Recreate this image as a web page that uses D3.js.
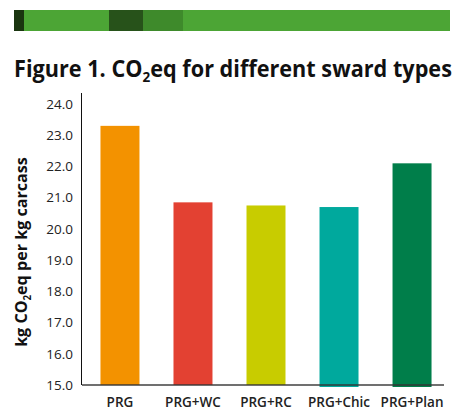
<!DOCTYPE html>
<html>
<head>
<meta charset="utf-8">
<script src="https://d3js.org/d3.v7.min.js"></script>
<style>
  body { margin: 0; background: #fff; }
  svg { display: block; font-family: "Open Sans", "Noto Sans", sans-serif; }
</style>
</head>
<body>
<div id="chart"></div>
<script>
// Sward types and kg CO2eq per kg carcass
const swards = ["PRG", "PRG+WC", "PRG+RC", "PRG+Chic", "PRG+Plan"];
const co2 = [23.3, 20.85, 20.75, 20.7, 22.1];
const barColors = ["#f39200", "#e34132", "#c8cc00", "#00a99d", "#007e4a"];
const yTicks = [15, 16, 17, 18, 19, 20, 21, 22, 23, 24];
// header strip segments (start, end in px along strip)
const stripStops = [0, 10, 95, 129, 169, 436];
const stripColors = ["#1a3510", "#4ca535", "#27521a", "#3e8a2b", "#4ca535"];

const width = 460, height = 410;
const svg = d3.select("#chart").append("svg")
  .attr("width", width).attr("height", height);

// squeeze a text horizontally so it fits a given width (font in the original is condensed)
function fitWidth(sel, x, y, w, rot) {
  const bw = sel.node().getBBox().width;
  const s = w / bw;
  if (rot) sel.attr("transform", `translate(${x},${y}) rotate(-90) scale(${s},1)`);
  else sel.attr("transform", `translate(${x},${y}) scale(${s},1)`);
}

// header strip
svg.append("g")
  .attr("transform", "translate(14,10)")
  .selectAll("rect")
  .data(stripColors)
  .enter()
  .append("rect")
  .attr("x", (d, i) => stripStops[i])
  .attr("width", (d, i) => stripStops[i + 1] - stripStops[i])
  .attr("y", 0)
  .attr("height", 21)
  .attr("fill", (d) => d);

// title
const title = svg.append("text")
  .attr("font-size", 24).attr("font-weight", 700)
  .attr("fill", "#111");
title.append("tspan").text("Figure 1. CO");
title.append("tspan").attr("font-size", 15).attr("dy", 5).text("2");
title.append("tspan").attr("dy", -5).text("eq for different sward types");
fitWidth(title, 14, 77, 438, false);

// scales
const x = d3.scaleBand()
  .domain(swards)
  .range([82, 450])
  .paddingInner(0.466)
  .paddingOuter(0.253);

const y = d3.scaleLinear().domain([15, 24]).range([385, 104]);

// bars
svg.append("g")
  .selectAll("rect")
  .data(swards)
  .enter()
  .append("rect")
  .attr("x", (d) => x(d))
  .attr("width", x.bandwidth())
  .attr("y", (d, i) => y(co2[i]))
  .attr("height", (d, i) => y(15) - y(co2[i]) + (i >= 3 ? 2 : 0))
  .attr("fill", (d, i) => barColors[i]);

// y axis
const yAxis = svg.append("g")
  .attr("transform", "translate(82,0)")
  .call(d3.axisLeft(y).tickValues(yTicks).tickFormat(d3.format(".1f")).tickSize(0).tickPadding(9));
yAxis.select(".domain").remove();
yAxis.selectAll("text")
  .attr("font-size", 13.5).attr("fill", "#222")
  .attr("font-family", '"Open Sans", sans-serif');
svg.append("line")
  .attr("x1", 81.5).attr("x2", 81.5)
  .attr("y1", 93).attr("y2", 385)
  .attr("stroke", "#111").attr("stroke-width", 1);

// baseline
svg.append("line")
  .attr("x1", 82).attr("x2", 444)
  .attr("y1", y(15)).attr("y2", y(15))
  .attr("stroke", "#333").attr("stroke-opacity", 0.7).attr("stroke-width", 2);

// x axis labels
const xAxis = svg.append("g")
  .attr("transform", "translate(0,391)")
  .call(d3.axisBottom(x).tickSize(0).tickPadding(6));
xAxis.select(".domain").remove();
xAxis.selectAll("text")
  .attr("font-size", 13.5).attr("font-weight", 600).attr("fill", "#222")
  .attr("font-family", '"Open Sans", sans-serif');

// y label
const yl = svg.append("text")
  .attr("text-anchor", "middle")
  .attr("font-size", 16.5).attr("font-weight", 700).attr("fill", "#111");
yl.append("tspan").text("kg CO");
yl.append("tspan").attr("font-size", 10).attr("dy", 4).text("2");
yl.append("tspan").attr("dy", -4).text("eq per kg carcass");
fitWidth(yl, 27, 252, 190, true);
</script>
</body>
</html>
